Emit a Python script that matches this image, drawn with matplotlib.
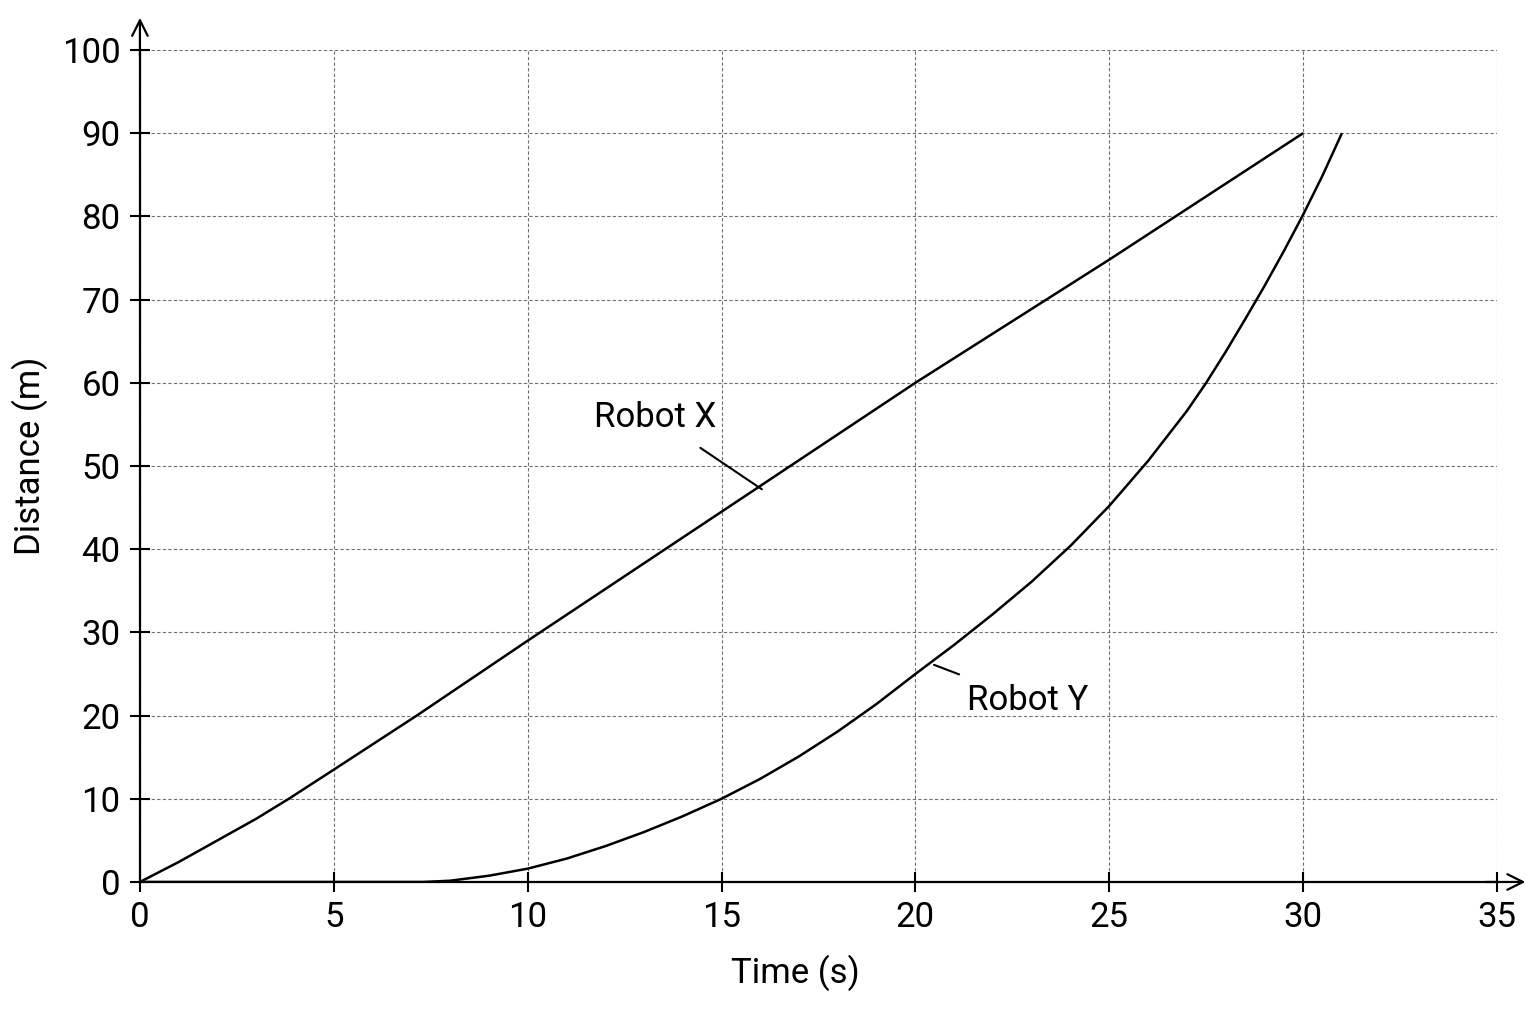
#robot distance-time graph
import matplotlib
matplotlib.use("Agg")
import matplotlib.pyplot as plt

plt.rcParams['font.family'] = ['Roboto', 'DejaVu Sans']

# values
robot_x_time = [0, 1, 2, 3, 3.84, 5, 7.14, 10, 15, 20, 25, 30]
robot_x_dist = [0, 2.4, 5.0, 7.6, 10, 13.5, 20, 29, 44.5, 60, 74.8, 90]

robot_y_time = [0, 7.3, 8, 9, 10, 11, 12, 13, 14, 15, 16, 17, 18, 19, 20,
                21, 22, 23, 24, 25, 26, 27, 27.5, 28, 28.5, 29, 29.5, 30, 30.5, 31]
robot_y_dist = [0, 0, 0.15, 0.75, 1.6, 2.8, 4.3, 6.0, 7.9, 10, 12.4, 15.1, 18.1, 21.4, 25.0,
                28.5, 32.2, 36.1, 40.4, 45.2, 50.6, 56.6, 60, 63.7, 67.6, 71.6, 75.8, 80.2, 84.9, 90]

x_ticks = [0, 5, 10, 15, 20, 25, 30, 35]
y_ticks = [0, 10, 20, 30, 40, 50, 60, 70, 80, 90, 100]

fig = plt.figure(figsize=(15.36, 10.24), dpi=100)
ax = fig.add_axes([0.0911, 0.1387, 0.8835, 0.8125])

ax.plot(robot_x_time, robot_x_dist, color='black', lw=1.8, solid_capstyle='butt')
ax.plot(robot_y_time, robot_y_dist, color='black', lw=1.8, solid_capstyle='butt')

ax.set_xlim(0, 35)
ax.set_ylim(0, 100)
ax.set_xticks(x_ticks)
ax.set_yticks(y_ticks)
ax.grid(True, color='#707070', linestyle=(0, (3, 2)), lw=0.8)
ax.set_axisbelow(True)

for side in ['top', 'right']:
    ax.spines[side].set_visible(False)
for side in ['left', 'bottom']:
    ax.spines[side].set_linewidth(1.6)
ax.tick_params(direction='inout', length=14, width=1.5, labelsize=25, pad=7)

# axis arrows
ax.annotate('', xy=(1.023, 0), xytext=(0.99, 0), xycoords='axes fraction',
            arrowprops=dict(arrowstyle='->', lw=1.6, mutation_scale=28, color='black'))
ax.annotate('', xy=(0, 1.042), xytext=(0, 0.99), xycoords='axes fraction',
            arrowprops=dict(arrowstyle='->', lw=1.6, mutation_scale=28, color='black'))

ax.set_xlabel('Time (s)', fontsize=25)
ax.set_ylabel('Distance (m)', fontsize=25)
ax.xaxis.set_label_coords(0.483, -0.087)
ax.yaxis.set_label_coords(-0.068, 0.512)

# line labels
ax.annotate('Robot X', xy=(16.04, 47.2), xytext=(13.3, 55.8), fontsize=25,
            ha='center', va='center',
            arrowprops=dict(arrowstyle='-', lw=1.5, color='black', shrinkA=14, shrinkB=0))
ax.annotate('Robot Y', xy=(20.48, 26.1), xytext=(22.9, 21.8), fontsize=25,
            ha='center', va='center',
            arrowprops=dict(arrowstyle='-', lw=1.5, color='black', shrinkA=14, shrinkB=0))

fig.savefig('out.png', dpi=100, facecolor='white')
